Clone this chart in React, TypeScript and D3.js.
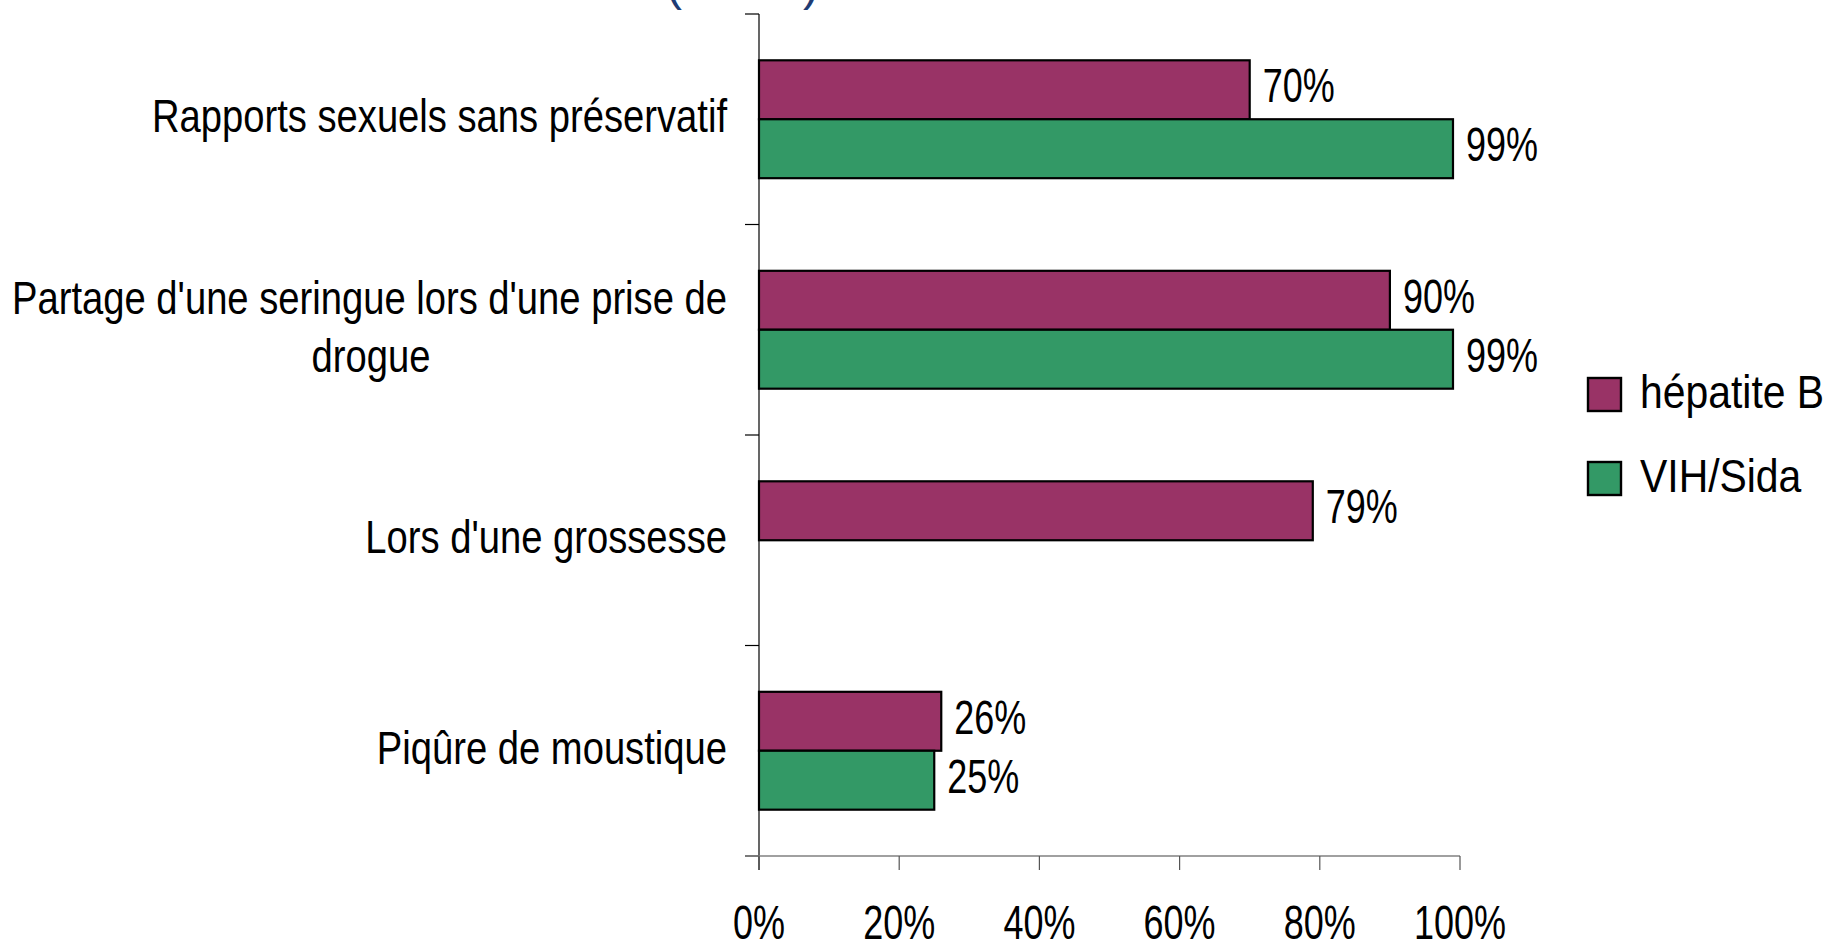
import React from "react";
import * as d3 from "d3";

const categories = [
  "Rapports sexuels sans préservatif",
  "Partage d'une seringue lors d'une prise de\ndrogue",
  "Lors d'une grossesse",
  "Piqûre de moustique",
];
const seriesNames = ["hépatite B", "VIH/Sida"];
const hepatiteB: (number | null)[] = [0.7, 0.9, 0.79, 0.26];
const vihSida: (number | null)[] = [0.99, 0.99, null, 0.25];
const xTicks = [0, 0.2, 0.4, 0.6, 0.8, 1.0];
const colors = ["#993366", "#339966"];

const W = 1831;
const H = 944;
const FONT = "'Liberation Sans', Arial, sans-serif";

export default function App() {
  const series = [hepatiteB, vihSida];
  const x = d3.scaleLinear().domain([0, 1]).range([759, 1460]);
  const y = d3
    .scaleBand<string>()
    .domain(categories)
    .range([14, 856])
    .paddingInner(0.44)
    .paddingOuter(0.22);
  const sub = d3
    .scaleBand<string>()
    .domain(seriesNames)
    .range([0, y.bandwidth()])
    .padding(0);
  const pct = d3.format(".0%");
  const step = y.step();
  const bounds = d3.range(categories.length + 1).map((i) => 14 + i * step);
  const catFs = 46;
  const catSx = 0.83;
  const valFs = 48;
  const valSx = 0.75;
  const lineH = 58.4;

  return (
    <svg
      width={W}
      height={H}
      style={{ position: "absolute", left: 0, top: 0, display: "block", background: "#fff" }}
      fontFamily={FONT}
    >
      {/* cropped title fragment */}
      <text x={666} y={0} fontSize={48} fill="#1F3C74">(</text>
      <text x={803} y={0} fontSize={48} fill="#1F3C74">)</text>

      {/* y axis */}
      <line x1={759} x2={759} y1={14} y2={870} stroke="#000" strokeWidth={1.2} />
      {bounds.map((b, i) => (
        <line key={"yt" + i} x1={745} x2={759} y1={b} y2={b} stroke="#000" strokeWidth={1.2} />
      ))}
      {/* x axis */}
      <line x1={745} x2={x(1)} y1={856} y2={856} stroke="#808080" strokeWidth={1.5} />
      {xTicks.map((t) => (
        <line key={"xt" + t} x1={x(t)} x2={x(t)} y1={856} y2={870} stroke="#555" strokeWidth={1.2} />
      ))}
      {xTicks.map((t) => (
        <text
          key={"xl" + t}
          transform={`translate(${x(t)},939) scale(0.75,1)`}
          textAnchor="middle"
          fontSize={48}
          fill="#000"
        >
          {pct(t)}
        </text>
      ))}

      {/* bars */}
      {categories.map((c, ci) =>
        series.map((s, si) => {
          const v = s[ci];
          if (v == null) return null;
          const y0 = (y(c) as number) + (sub(seriesNames[si]) as number);
          const bh = sub.bandwidth();
          return (
            <g key={c + si}>
              <rect
                x={x(0)}
                y={y0}
                width={x(v) - x(0)}
                height={bh}
                fill={colors[si]}
                stroke="#000"
                strokeWidth={2.2}
              />
              <text
                transform={`translate(${x(v) + 13},${y0 + bh / 2 + 12.5}) scale(${valSx},1)`}
                fontSize={valFs}
                fill="#000"
              >
                {pct(v)}
              </text>
            </g>
          );
        })
      )}

      {/* category labels */}
      {categories.map((c) => {
        const lines = c.split("\n");
        const cy = (y(c) as number) + y.bandwidth() / 2;
        const first = cy + 13 - ((lines.length - 1) * lineH) / 2;
        const cx = 727;
        if (lines.length === 1) {
          return (
            <text
              key={c}
              transform={`translate(${cx},${first}) scale(${catSx},1)`}
              textAnchor="end"
              fontSize={catFs}
              fill="#000"
            >
              {c}
            </text>
          );
        }
        const widest = 712;
        return (
          <g key={c}>
            {lines.map((l, li) => (
              <text
                key={li}
                transform={`translate(${li === 0 ? cx : cx - widest / 2},${first + li * lineH}) scale(${catSx},1)`}
                textAnchor={li === 0 ? "end" : "middle"}
                fontSize={catFs}
                fill="#000"
              >
                {l}
              </text>
            ))}
          </g>
        );
      })}

      {/* legend */}
      {seriesNames.map((n, i) => (
        <g key={n} transform={`translate(1588,${378 + i * 84})`}>
          <rect x={0} y={0} width={33} height={33} fill={colors[i]} stroke="#000" strokeWidth={2.4} />
          <text transform={`translate(52,29.5) scale(0.87,1)`} fontSize={47} fill="#000">
            {n}
          </text>
        </g>
      ))}
    </svg>
  );
}
